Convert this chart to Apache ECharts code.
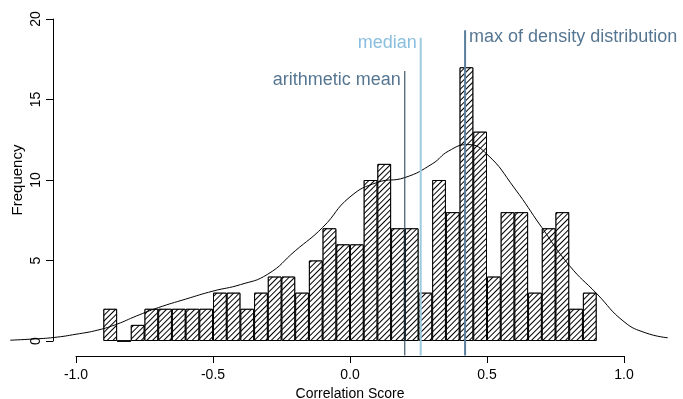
<!DOCTYPE html>
<html><head><meta charset="utf-8">
<script src="https://cdn.jsdelivr.net/npm/echarts@6/dist/echarts.min.js"></script>
<style>html,body{margin:0;padding:0;background:#fff}#c{width:683px;height:399px}</style>
</head><body><div id="c"></div>
<script>
// Histogram bins (left edges) and counts
const binStarts = [-0.9,-0.85,-0.8,-0.75,-0.7,-0.65,-0.6,-0.55,-0.5,-0.45,-0.4,-0.35,-0.3,-0.25,-0.2,-0.15,-0.1,-0.05,0,0.05,0.1,0.15,0.2,0.25,0.3,0.35,0.4,0.45,0.5,0.55,0.6,0.65,0.7,0.75,0.8,0.85];
const counts = [2,0,1,2,2,2,2,2,3,3,2,3,4,4,3,5,7,6,6,10,11,7,7,3,10,8,17,13,4,8,8,3,7,8,2,3];
// Density curve scaled to frequency
const densX = [-1.24,-1.16,-1.08,-1.0,-0.92,-0.85,-0.78,-0.70,-0.60,-0.50,-0.40,-0.30,-0.20,-0.10,0.0,0.10,0.20,0.30,0.36,0.43,0.50,0.60,0.70,0.80,0.90,1.0,1.08,1.16];
const densY = [0.05,0.12,0.22,0.42,0.68,1.05,1.55,2.07,2.6,3.1,3.5,4.15,5.6,7.05,8.95,9.85,10.15,11.0,11.8,12.2,11.6,9.5,7.05,4.7,2.95,1.2,0.5,0.2];
// Reference lines
const refNames = ['arithmetic mean','median','max of density distribution'];
const refX = [0.2,0.258,0.42];
const refTop = [16.77,18.84,19.3];
const refBottom = -0.9;
const xTicks = [-1.0,-0.5,0.0,0.5,1.0];
const yTicks = [0,5,10,15,20];

const FONT = 'Liberation Sans, Arial, Helvetica, sans-serif';
const lineColors = ['#1a3552','#9ecae1','#5b7e9c'];
const textColors = ['#2a5375','#6baed6','#2a5375'];
const lineWidths = [1,2,2];

const chart = echarts.init(document.getElementById('c'), null, {renderer:'canvas'});
const PXU = 16.1; // px per frequency unit
const series = [];
series.push({
  type:'bar', xAxisIndex:3, yAxisIndex:3, data:counts, barCategoryGap:'0%', barGap:'0%',
  itemStyle:{color:'#fff', borderColor:'#000', borderWidth:1,
    decal:{symbol:'rect', symbolSize:1, dashArrayX:[1,0], dashArrayY:[1,3], rotation:-Math.PI/4, color:'#000', backgroundColor:'#fff'}},
  silent:true, animation:false, z:2
});
series.push({
  type:'line', xAxisIndex:0, yAxisIndex:0, data:densX.map((x,i)=>[x,densY[i]]),
  smooth:0.5, showSymbol:false, symbol:'none', lineStyle:{color:'#000', width:1}, z:3, animation:false
});
refX.forEach((x,i)=>{
  series.push({
    type:'line', xAxisIndex:0, yAxisIndex:0, data:[[x,refBottom],[x,refTop[i]]], showSymbol:false, symbol:'none',
    lineStyle:{color:lineColors[i], width:lineWidths[i]}, z:4, animation:false
  });
});
// labels
const labelPos = [
  {y:16.2, pos:'left'},
  {y:18.5, pos:'left'},
  {y:18.9, pos:'right'}
];
refX.forEach((x,i)=>{
  series.push({
    type:'scatter', xAxisIndex:0, yAxisIndex:0, data:[[x,labelPos[i].y]], symbolSize:0, z:5, animation:false,
    label:{show:true, formatter:refNames[i], position:labelPos[i].pos, distance:4, color:textColors[i], fontSize:18, fontFamily:FONT}
  });
});

chart.setOption({
  animation:false,
  grid:[
    {left:7.5, right:4.2, top:19, height:21*PXU, outerBoundsMode:'none', containLabel:false},
    {left:76, width:548, top:19, height:337, outerBoundsMode:'none', containLabel:false},
    {left:53, width:10, top:19, height:20*PXU, outerBoundsMode:'none', containLabel:false},
    {left:103.4, width:493.2, top:19, height:20*PXU, outerBoundsMode:'none', containLabel:false}
  ],
  xAxis:[
    {type:'value', gridIndex:0, min:-1.25, max:1.2, show:false},
    {type:'value', gridIndex:1, min:-1, max:1, interval:0.5, position:'bottom',
      axisLine:{show:true, lineStyle:{color:'#000', width:1}},
      axisTick:{show:true, length:7, inside:false, lineStyle:{color:'#000'}},
      axisLabel:{show:true, margin:12, color:'#000', fontSize:14, fontFamily:FONT, formatter:v=>v.toFixed(1)},
      splitLine:{show:false},
      name:'Correlation Score', nameLocation:'middle', nameGap:28, nameTextStyle:{color:'#000', fontSize:14, fontFamily:FONT}},
    {type:'value', gridIndex:2, show:false, min:0, max:1},
    {type:'category', gridIndex:3, data:binStarts.map(String), show:false}
  ],
  yAxis:[
    {type:'value', gridIndex:0, min:-1, max:20, show:false},
    {type:'value', gridIndex:1, show:false, min:0, max:1},
    {type:'value', gridIndex:2, min:0, max:20, interval:5, position:'left',
      axisLine:{show:true, lineStyle:{color:'#000', width:1}},
      axisTick:{show:true, length:7, inside:false, lineStyle:{color:'#000'}},
      axisLabel:{show:true, rotate:90, margin:10, color:'#000', fontSize:14, fontFamily:FONT},
      splitLine:{show:false},
      name:'Frequency', nameLocation:'middle', nameRotate:90, nameGap:28, nameTextStyle:{color:'#000', fontSize:15, fontFamily:FONT}},
    {type:'value', gridIndex:3, min:0, max:20, show:false}
  ],
  series:series
});
</script></body></html>
